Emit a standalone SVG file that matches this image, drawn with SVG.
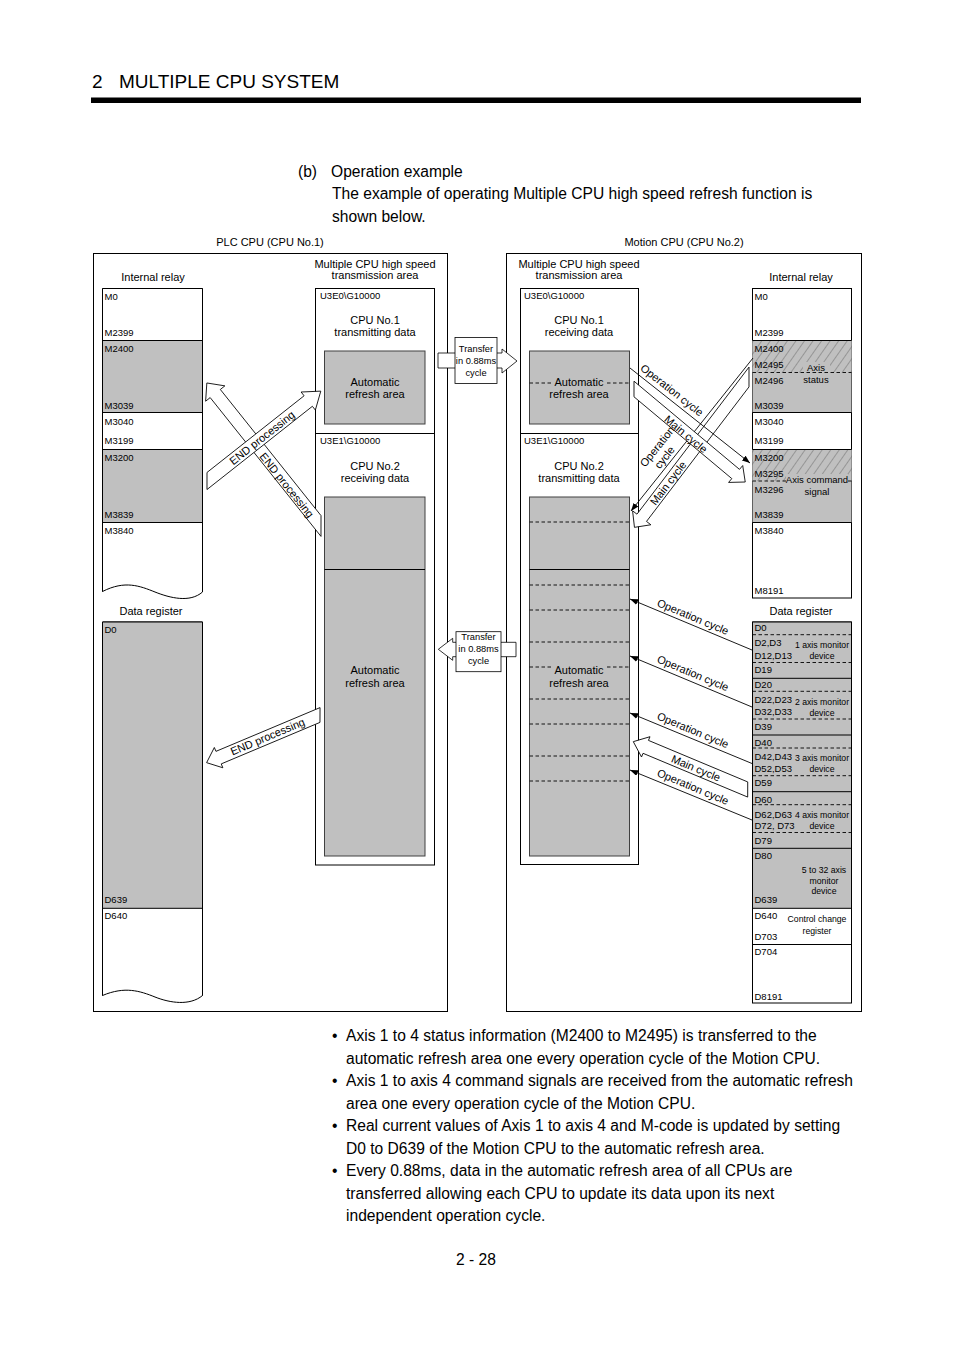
<svg xmlns="http://www.w3.org/2000/svg" width="954" height="1350" viewBox="0 0 954 1350">
<defs>
<style>
text{font-family:"Liberation Sans",Arial,Helvetica,sans-serif;fill:#000}
.h{font-size:19px}
.p{font-size:15.6px}
.m{font-size:11px}
.d{font-size:9.5px}
.sm{font-size:8.7px}
.tr{font-size:9.3px}
.c{text-anchor:middle}
.box{fill:#fff;stroke:#000;stroke-width:1}
.g{fill:#c0c0c0;stroke:none}
.gb{fill:#c0c0c0;stroke:#404040;stroke-width:1}
.ln{stroke:#000;stroke-width:1;fill:none}
.ds{stroke:#000;stroke-width:0.9;stroke-dasharray:3.5 2.5;fill:none}
.blk{fill:#fff;stroke:#000;stroke-width:0.8}
.thin{stroke:#000;stroke-width:0.9;fill:none;marker-end:url(#ah)}
</style>
<pattern id="hatch" width="7" height="7" patternUnits="userSpaceOnUse" patternTransform="rotate(35)">
<rect width="7" height="7" fill="#c0c0c0"/>
<line x1="0" y1="0" x2="0" y2="7" stroke="#555" stroke-width="0.8"/>
</pattern>
<marker id="ah" viewBox="0 0 8 6" refX="8" refY="3" markerWidth="8" markerHeight="6" orient="auto" markerUnits="userSpaceOnUse">
<path d="M0,0 L8,3 L0,6 Z" fill="#000"/>
</marker>
</defs>
<rect x="0" y="0" width="954" height="1350" fill="#fff"/>

<g id="header">
<text class="h" x="92" y="88">2</text>
<text class="h" x="119" y="88">MULTIPLE CPU SYSTEM</text>
<rect x="91" y="97.5" width="770" height="5.5" fill="#000"/>
</g>

<g id="intro">
<text class="p" x="298" y="177">(b)</text>
<text class="p" x="331" y="177">Operation example</text>
<text class="p" x="332" y="199">The example of operating Multiple CPU high speed refresh function is</text>
<text class="p" x="332" y="222">shown below.</text>
</g>

<g id="plc-cpu">
<text class="m c" x="270" y="246">PLC CPU (CPU No.1)</text>
<rect class="box" x="93.5" y="253.5" width="354" height="758"/>
</g>
<g id="motion-cpu">
<text class="m c" x="684" y="246">Motion CPU (CPU No.2)</text>
<rect class="box" x="506.5" y="253.5" width="355" height="758"/>
</g>

<g id="plc-internal-relay">
<text class="m c" x="153" y="281">Internal relay</text>
<path class="box" d="M102.5,288.5 H202.5 V592 C190,603 170,598 155,592 C140,586 125,580 102.5,591.5 Z"/>
<rect class="g" x="102.5" y="340.5" width="100" height="72"/>
<rect class="g" x="102.5" y="449.5" width="100" height="73"/>
<path class="ln" d="M102.5,340.5H202.5M102.5,412.5H202.5M102.5,449.5H202.5M102.5,522.5H202.5M102.5,288.5V591.5M202.5,288.5V592"/>
<text class="d" x="104.5" y="299.5">M0</text>
<text class="d" x="104.5" y="335.5">M2399</text>
<text class="d" x="104.5" y="351.5">M2400</text>
<text class="d" x="104.5" y="408.5">M3039</text>
<text class="d" x="104.5" y="424.5">M3040</text>
<text class="d" x="104.5" y="443.5">M3199</text>
<text class="d" x="104.5" y="460.5">M3200</text>
<text class="d" x="104.5" y="517.5">M3839</text>
<text class="d" x="104.5" y="533.5">M3840</text>
</g>

<g id="plc-data-register">
<text class="m c" x="151" y="614.5">Data register</text>
<path class="box" d="M102.5,622 H202.5 V995.5 C190,1006 170,1003 155,997 C140,991 125,986 102.5,995.5 Z"/>
<rect class="g" x="102.5" y="622" width="100" height="286.3"/>
<path class="ln" d="M102.5,622H202.5M102.5,908.3H202.5M102.5,622V995.5M202.5,622V995.5"/>
<text class="d" x="104.5" y="632.5">D0</text>
<text class="d" x="104.5" y="902.5">D639</text>
<text class="d" x="104.5" y="919">D640</text>
</g>

<g id="plc-transmission">
<text class="m c" x="375" y="268">Multiple CPU high speed</text>
<text class="m c" x="375" y="279">transmission area</text>
<rect class="box" x="315.5" y="288.5" width="119" height="576.5"/>
<line class="ln" x1="315.5" y1="433.5" x2="434.5" y2="433.5"/>
<text class="d" x="320" y="299">U3E0\G10000</text>
<text class="m c" x="375" y="323.5">CPU No.1</text>
<text class="m c" x="375" y="335.5">transmitting data</text>
<rect class="gb" x="324.5" y="351" width="100.5" height="73"/>
<text class="m c" x="375" y="386">Automatic</text>
<text class="m c" x="375" y="398">refresh area</text>
<text class="d" x="320" y="444">U3E1\G10000</text>
<text class="m c" x="375" y="470">CPU No.2</text>
<text class="m c" x="375" y="482">receiving data</text>
<rect class="gb" x="324.5" y="497" width="100.5" height="359"/>
<line class="ln" x1="324.5" y1="569.5" x2="425" y2="569.5"/>
<text class="m c" x="375" y="674">Automatic</text>
<text class="m c" x="375" y="686.5">refresh area</text>
</g>

<g id="motion-transmission">
<text class="m c" x="579" y="268">Multiple CPU high speed</text>
<text class="m c" x="579" y="279">transmission area</text>
<rect class="box" x="520.5" y="288.5" width="118" height="576"/>
<line class="ln" x1="520.5" y1="433.5" x2="638.5" y2="433.5"/>
<text class="d" x="524" y="299">U3E0\G10000</text>
<text class="m c" x="579" y="323.5">CPU No.1</text>
<text class="m c" x="579" y="335.5">receiving data</text>
<rect class="gb" x="529.5" y="351" width="100" height="73"/>
<path class="ds" d="M529.5,383H551M607,383H629.5"/>
<text class="m c" x="579" y="386">Automatic</text>
<text class="m c" x="579" y="398">refresh area</text>
<text class="d" x="524" y="444">U3E1\G10000</text>
<text class="m c" x="579" y="470">CPU No.2</text>
<text class="m c" x="579" y="482">transmitting data</text>
<rect class="gb" x="529.5" y="497" width="100" height="359"/>
<line class="ln" x1="529.5" y1="569.5" x2="629.5" y2="569.5"/>
<path class="ds" d="M529.5,522H629.5M529.5,585H629.5M529.5,610H629.5M529.5,642H629.5M529.5,667H551M607,667H629.5M529.5,699H629.5M529.5,724H629.5M529.5,756H629.5M529.5,781H629.5"/>
<text class="m c" x="579" y="674">Automatic</text>
<text class="m c" x="579" y="686.5">refresh area</text>
</g>

<g id="motion-internal-relay">
<text class="m c" x="801" y="281">Internal relay</text>
<rect class="box" x="752.5" y="288.5" width="99" height="309.5"/>
<rect class="g" x="752.5" y="340.5" width="99" height="72"/>
<rect class="g" x="752.5" y="449.5" width="99" height="73"/>
<rect x="752.5" y="340.5" width="99" height="32" fill="url(#hatch)"/>
<rect x="752.5" y="449.5" width="99" height="31.5" fill="url(#hatch)"/>
<rect class="g" x="803" y="362" width="27" height="10"/>
<rect class="g" x="786" y="474" width="62" height="11"/>
<path class="ln" d="M752.5,340.5H851.5M752.5,412.5H851.5M752.5,449.5H851.5M752.5,522.5H851.5"/>
<path class="ds" d="M752.5,372.5H851.5M752.5,481H786M848,481H851.5"/>
<text class="d" x="754.5" y="299.5">M0</text>
<text class="d" x="754.5" y="335.5">M2399</text>
<text class="d" x="754.5" y="351.5">M2400</text>
<text class="d" x="754.5" y="367.5">M2495</text>
<text class="d" x="754.5" y="383.5">M2496</text>
<text class="d" x="754.5" y="408.5">M3039</text>
<text class="d" x="754.5" y="424.5">M3040</text>
<text class="d" x="754.5" y="443.5">M3199</text>
<text class="d" x="754.5" y="460.5">M3200</text>
<text class="d" x="754.5" y="476.5">M3295</text>
<text class="d" x="754.5" y="492.5">M3296</text>
<text class="d" x="754.5" y="517.5">M3839</text>
<text class="d" x="754.5" y="533.5">M3840</text>
<text class="d" x="754.5" y="593.5">M8191</text>
<text class="d c" x="816" y="371">Axis</text>
<text class="d c" x="816" y="383">status</text>
<text class="d c" x="817" y="483">Axis command</text>
<text class="d c" x="817" y="495">signal</text>
</g>

<g id="motion-data-register">
<text class="m c" x="801" y="614.5">Data register</text>
<rect class="box" x="752.5" y="622" width="99" height="381"/>
<rect class="g" x="752.5" y="622" width="99" height="286.3"/>
<path class="ln" d="M752.5,622H851.5M752.5,678.3H851.5M752.5,735H851.5M752.5,791.7H851.5M752.5,848.3H851.5M752.5,908.3H851.5M752.5,944.5H851.5M752.5,622V1003M851.5,622V1003"/>
<path class="ds" d="M752.5,634.7H851.5M752.5,662.5H851.5M752.5,691.3H851.5M752.5,719H851.5M752.5,748H851.5M752.5,775.7H851.5M752.5,804.7H851.5M752.5,832.5H851.5"/>
<text class="d" x="754.5" y="631">D0</text>
<text class="d" x="754.5" y="646">D2,D3</text>
<text class="d" x="754.5" y="658.5">D12,D13</text>
<text class="d" x="754.5" y="673">D19</text>
<text class="sm c" x="822" y="648">1 axis monitor</text>
<text class="sm c" x="822" y="658.5">device</text>
<text class="d" x="754.5" y="688">D20</text>
<text class="d" x="754.5" y="703">D22,D23</text>
<text class="d" x="754.5" y="715">D32,D33</text>
<text class="d" x="754.5" y="729.5">D39</text>
<text class="sm c" x="822" y="705">2 axis monitor</text>
<text class="sm c" x="822" y="715.5">device</text>
<text class="d" x="754.5" y="745.5">D40</text>
<text class="d" x="754.5" y="760">D42,D43</text>
<text class="d" x="754.5" y="772">D52,D53</text>
<text class="d" x="754.5" y="786">D59</text>
<text class="sm c" x="822" y="761">3 axis monitor</text>
<text class="sm c" x="822" y="772">device</text>
<text class="d" x="754.5" y="802.5">D60</text>
<text class="d" x="754.5" y="817.5">D62,D63</text>
<text class="d" x="754.5" y="829">D72, D73</text>
<text class="d" x="754.5" y="843.5">D79</text>
<text class="sm c" x="822" y="818">4 axis monitor</text>
<text class="sm c" x="822" y="829">device</text>
<text class="d" x="754.5" y="859">D80</text>
<text class="sm c" x="824" y="873">5 to 32 axis</text>
<text class="sm c" x="824" y="884">monitor</text>
<text class="sm c" x="824" y="894">device</text>
<text class="d" x="754.5" y="902.5">D639</text>
<text class="d" x="754.5" y="919">D640</text>
<text class="d" x="754.5" y="940">D703</text>
<text class="sm c" x="817" y="922">Control change</text>
<text class="sm c" x="817" y="934">register</text>
<text class="d" x="754.5" y="955">D704</text>
<text class="d" x="754.5" y="999.5">D8191</text>
</g>

<g id="connectors">
<polygon class="blk" points="438,353 502,353 502,349 517,361 502,373 502,368 438,368"/>
<rect class="blk" x="455" y="337.5" width="42" height="46"/>
<text class="tr c" x="476" y="352">Transfer</text>
<text class="tr c" x="476" y="364">in 0.88ms</text>
<text class="tr c" x="476" y="376">cycle</text>
<polygon class="blk" points="516,642.3 452.7,642.3 452.7,638.3 438.3,649.3 452.7,660.3 452.7,656.7 516,656.7"/>
<rect class="blk" x="456" y="631.7" width="45" height="40"/>
<text class="tr c" x="478.5" y="640">Transfer</text>
<text class="tr c" x="478.5" y="652">in 0.88ms</text>
<text class="tr c" x="478.5" y="664">cycle</text>

<polygon class="blk" transform="translate(321,526) rotate(-128.6)" points="-8.1,-6.5 169.5,-6.5 169.5,-12.3 183,0 169.5,12.3 169.5,6.5 8.1,6.5"/>
<text class="m c" transform="translate(287,485) rotate(51.4)" x="0" y="4">END processing</text>
<g transform="translate(207,481) rotate(-38.3)">
<polygon class="blk" points="5.3,-6.7 129,-6.7 129,-11.5 145,0 129,11.5 129,6.7 -5.3,6.7"/>
<text class="m c" x="70" y="4">END processing</text>
</g>
<polygon class="blk" transform="translate(320,715) rotate(157.2)" points="2.9,-6.8 110,-6.8 110,-11 123,0 110,11 110,6.8 -2.9,6.8"/>
<text class="m c" transform="translate(267.5,736.5) rotate(-22.8)" x="0" y="4">END processing</text>

<polygon class="blk" transform="translate(749,377) rotate(127.3)" points="7.9,-6 177,-6 177,-11.5 189,0 177,11.5 177,6 -7.9,6"/>
<text class="m c" transform="translate(668,483) rotate(-52.7)" x="0" y="4">Main cycle</text>
<path class="thin" d="M753,358 L631,511"/>
<text class="m c" transform="translate(661,452) rotate(-51.8)" x="2" y="-2.5">Operation</text>
<text class="m c" transform="translate(661,452) rotate(-51.8)" x="-2" y="10">cycle</text>
<polygon class="blk" transform="translate(634,389) rotate(39.9)" points="-5,-6 132.5,-6 132.5,-11 145,0 132.5,11 132.5,6 5,6"/>
<text class="m c" transform="translate(686,434) rotate(39.9)" x="0" y="4">Main cycle</text>
<path class="thin" d="M630,368 L750,463"/>
<text class="m c" transform="translate(672,390) rotate(38.4)" x="0" y="4">Operation cycle</text>

<path class="thin" d="M752,650 L630,599"/>
<text class="m c" transform="translate(693,616.7) rotate(22.7)" x="0" y="4">Operation cycle</text>
<path class="thin" d="M752,707 L630,656"/>
<text class="m c" transform="translate(693,673) rotate(22.7)" x="0" y="4">Operation cycle</text>
<path class="thin" d="M752,763.5 L630,713"/>
<text class="m c" transform="translate(693,730) rotate(22.7)" x="0" y="4">Operation cycle</text>
<polygon class="blk" transform="translate(747.7,789.5) rotate(202.7)" points="-2.9,-7 110.5,-7 110.5,-11 124,0 110.5,11 110.5,7 2.9,7"/>
<text class="m c" transform="translate(696,768) rotate(22.7)" x="0" y="4">Main cycle</text>
<path class="thin" d="M752,820 L630,770"/>
<text class="m c" transform="translate(693,786.7) rotate(22.7)" x="0" y="4">Operation cycle</text>
</g>

<g id="notes">
<text class="p" x="332" y="1041">•</text>
<text class="p" x="346" y="1041">Axis 1 to 4 status information (M2400 to M2495) is transferred to the</text>
<text class="p" x="346" y="1063.5">automatic refresh area one every operation cycle of the Motion CPU.</text>
<text class="p" x="332" y="1086">•</text>
<text class="p" x="346" y="1086">Axis 1 to axis 4 command signals are received from the automatic refresh</text>
<text class="p" x="346" y="1108.5">area one every operation cycle of the Motion CPU.</text>
<text class="p" x="332" y="1131">•</text>
<text class="p" x="346" y="1131">Real current values of Axis 1 to axis 4 and M-code is updated by setting</text>
<text class="p" x="346" y="1153.5">D0 to D639 of the Motion CPU to the automatic refresh area.</text>
<text class="p" x="332" y="1176">•</text>
<text class="p" x="346" y="1176">Every 0.88ms, data in the automatic refresh area of all CPUs are</text>
<text class="p" x="346" y="1198.5">transferred allowing each CPU to update its data upon its next</text>
<text class="p" x="346" y="1221">independent operation cycle.</text>
<text class="p c" x="476" y="1265">2 - 28</text>
</g>
</svg>
